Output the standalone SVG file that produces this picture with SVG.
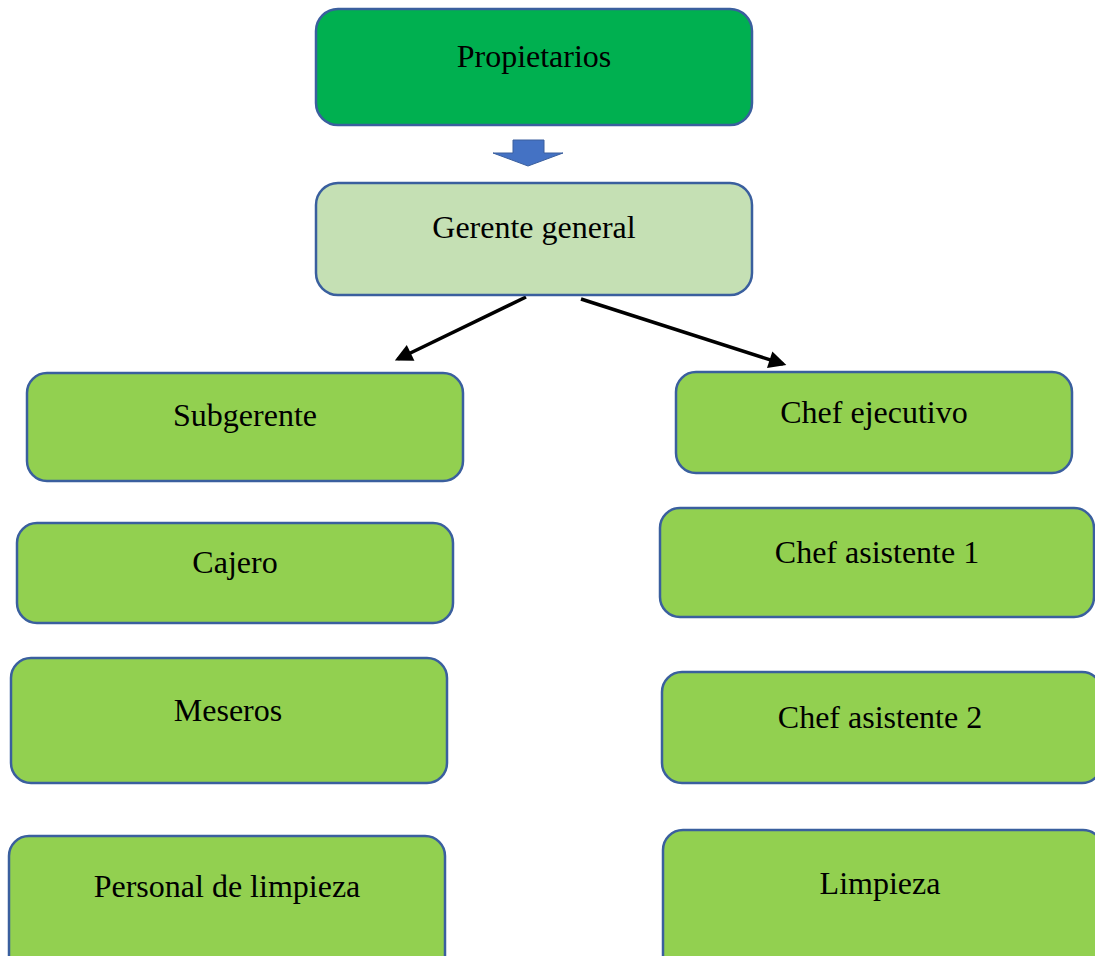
<svg xmlns="http://www.w3.org/2000/svg" width="1095" height="956" viewBox="0 0 1095 956">
<defs>
<style>
.box{stroke:#3A5F9E;stroke-width:2.5}
.g1{fill:#00B050}
.g2{fill:#C5E0B4}
.g3{fill:#92D050}
.t{font-family:"Liberation Serif","Times New Roman",serif;font-size:32px;fill:#000;text-anchor:middle}
.c{stroke:#000;stroke-width:3.5;fill:none}
</style>
<marker id="ah" viewBox="0 0 10 10" refX="8" refY="5" markerWidth="5.5" markerHeight="5" markerUnits="strokeWidth" orient="auto">
<path d="M0,0 L10,5 L0,10 z" fill="#000"/>
</marker>
</defs>
<rect width="1095" height="956" fill="#fff"/>
<g id="connectors">
<path d="M513,140 H544 V153 H563 L528,166 L493,153 H513 Z" fill="#4472C4" stroke="#3A5F9E" stroke-width="1"/>
<line class="c" x1="526" y1="297" x2="398" y2="359" marker-end="url(#ah)"/>
<line class="c" x1="581" y1="299" x2="783" y2="364" marker-end="url(#ah)"/>
</g>
<g id="propietarios"><rect class="box g1" x="316" y="9" width="436" height="116" rx="22"/><text class="t" x="534" y="67">Propietarios</text></g>
<g id="gerente"><rect class="box g2" x="316" y="183" width="436" height="112" rx="22"/><text class="t" x="534" y="238">Gerente general</text></g>
<g id="subgerente"><rect class="box g3" x="27" y="373" width="436" height="108" rx="20"/><text class="t" x="245" y="426">Subgerente</text></g>
<g id="chef-ejecutivo"><rect class="box g3" x="676" y="372" width="396" height="101" rx="20"/><text class="t" x="874" y="423">Chef ejecutivo</text></g>
<g id="cajero"><rect class="box g3" x="17" y="523" width="436" height="100" rx="20"/><text class="t" x="235" y="573">Cajero</text></g>
<g id="chef-asistente-1"><rect class="box g3" x="660" y="508" width="434" height="109" rx="20"/><text class="t" x="877" y="563">Chef asistente 1</text></g>
<g id="meseros"><rect class="box g3" x="11" y="658" width="436" height="125" rx="20"/><text class="t" x="228" y="721">Meseros</text></g>
<g id="chef-asistente-2"><rect class="box g3" x="662" y="672" width="440" height="111" rx="20"/><text class="t" x="880" y="728">Chef asistente 2</text></g>
<g id="personal-limpieza"><rect class="box g3" x="9" y="836" width="436" height="140" rx="20"/><text class="t" x="227" y="897">Personal de limpieza</text></g>
<g id="limpieza"><rect class="box g3" x="663" y="830" width="440" height="146" rx="20"/><text class="t" x="880" y="894">Limpieza</text></g>
</svg>
